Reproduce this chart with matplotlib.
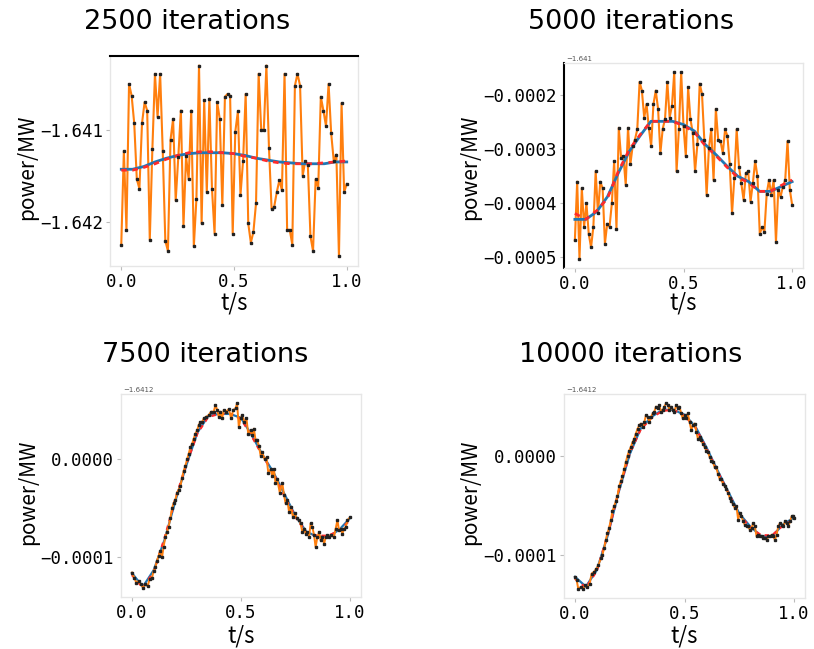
import numpy as np
import matplotlib
matplotlib.use("Agg")
import matplotlib.pyplot as plt

# ---- data -----------------------------------------------------------------
TITLES = ["2500 iterations", "5000 iterations", "7500 iterations", "10000 iterations"]
OFFSET_TEXT = ["", "\u22121.641", "\u22121.6412", "\u22121.6412"]

# smooth reference curves at t = 0, 0.05, ..., 1.0
KNOT_T = [0.00, 0.05, 0.10, 0.15, 0.20, 0.25, 0.30, 0.35, 0.40, 0.45, 0.50,
          0.55, 0.60, 0.65, 0.70, 0.75, 0.80, 0.85, 0.90, 0.95, 1.00]

# panel 1 (MW)
p1_blue = [-1.64143, -1.64143, -1.64140, -1.64135, -1.64131, -1.64128, -1.64126,
           -1.64125, -1.64125, -1.64125, -1.64126, -1.64128, -1.64131, -1.64133,
           -1.64135, -1.64136, -1.64137, -1.64137, -1.64137, -1.64135, -1.64135]
p1_red = [-1.64144, -1.64144, -1.64141, -1.64137, -1.64132, -1.64128, -1.64125,
          -1.64124, -1.64124, -1.64125, -1.64126, -1.64129, -1.64131, -1.64134,
          -1.64136, -1.64137, -1.64137, -1.64137, -1.64136, -1.64135, -1.64134]
p1_orange = [
    -1.64225, -1.64123, -1.64209, -1.64050, -1.64063, -1.64093, -1.64154, -1.64164,
    -1.64093, -1.64070, -1.64079, -1.64220, -1.64121, -1.64039, -1.64086, -1.64039,
    -1.64123, -1.64221, -1.64232, -1.64111, -1.64088, -1.64177, -1.64130, -1.64079,
    -1.64205, -1.64129, -1.64154, -1.64079, -1.64227, -1.64175, -1.64030, -1.64202,
    -1.64068, -1.64168, -1.64066, -1.64164, -1.64213, -1.64070, -1.64088, -1.64182,
    -1.64064, -1.64061, -1.64063, -1.64213, -1.64102, -1.64080, -1.64171, -1.64134,
    -1.64061, -1.64202, -1.64223, -1.64211, -1.64180, -1.64039, -1.64100, -1.64100,
    -1.64030, -1.64120, -1.64186, -1.64184, -1.64168, -1.64155, -1.64166, -1.64039,
    -1.64209, -1.64209, -1.64225, -1.64052, -1.64039, -1.64052, -1.64150, -1.64134,
    -1.64138, -1.64216, -1.64232, -1.64154, -1.64163, -1.64064, -1.64079, -1.64096,
    -1.64050, -1.64104, -1.64134, -1.64127, -1.64238, -1.64071, -1.64168, -1.64159,
]

# panels 2-4 are in units of 1e-4 MW (relative to the offset)
p2_blue = [-4.31, -4.31, -4.17, -3.89, -3.45, -3.05, -2.76, -2.49, -2.49, -2.49, -2.55,
           -2.67, -2.92, -3.11, -3.32, -3.51, -3.61, -3.79, -3.79, -3.70, -3.61]
p2_red = [-4.20, -4.31, -4.15, -3.92, -3.42, -3.02, -2.74, -2.49, -2.49, -2.49, -2.57,
          -2.69, -2.94, -3.13, -3.34, -3.53, -3.63, -3.79, -3.79, -3.68, -3.58]
p2_orange = [
    -4.70, -3.61, -5.04, -3.73, -4.45, -4.01, -4.58, -4.83, -4.45, -3.42, -4.20, -3.61,
    -3.73, -4.76, -4.39, -4.45, -4.01, -3.23, -4.48, -2.61, -3.17, -3.14, -3.67, -2.61,
    -3.29, -2.95, -2.83, -2.64, -1.76, -1.92, -2.42, -2.17, -2.61, -2.95, -2.17, -1.92,
    -2.26, -3.08, -2.63, -2.45, -1.76, -2.42, -2.20, -1.58, -3.42, -2.64, -1.58, -2.58,
    -3.14, -1.86, -2.45, -2.70, -3.42, -2.92, -1.79, -1.98, -2.83, -3.86, -2.98, -2.64,
    -3.58, -2.26, -2.83, -2.86, -3.08, -2.64, -2.76, -3.29, -4.20, -3.54, -2.64, -3.33,
    -3.64, -3.95, -3.45, -3.42, -3.98, -3.64, -3.23, -3.51, -4.58, -4.45, -4.54, -3.83,
    -3.58, -3.86, -3.58, -4.73, -3.76, -3.89, -3.70, -3.58, -2.86, -3.76, -4.04,
]

p3_blue = [-1.16, -1.30, -1.13, -0.82, -0.42, -0.06, 0.27, 0.44, 0.46, 0.46, 0.42,
           0.24, 0.04, -0.14, -0.36, -0.58, -0.74, -0.79, -0.79, -0.72, -0.60]
p3_red = [-1.18, -1.31, -1.15, -0.80, -0.40, -0.05, 0.26, 0.43, 0.46, 0.46, 0.41,
          0.23, 0.03, -0.15, -0.38, -0.59, -0.75, -0.78, -0.78, -0.73, -0.62]
p3_t = [
    0.000, 0.011, 0.020, 0.031, 0.041, 0.051, 0.061, 0.072, 0.081, 0.092,
    0.100, 0.107, 0.115, 0.123, 0.130, 0.138, 0.145, 0.153, 0.161, 0.168,
    0.176, 0.184, 0.191, 0.199, 0.207, 0.214, 0.222, 0.230, 0.237, 0.245,
    0.253, 0.260, 0.268, 0.276, 0.283, 0.291, 0.299, 0.306, 0.314, 0.322,
    0.329, 0.341, 0.352, 0.363, 0.375, 0.383, 0.391, 0.398, 0.406, 0.413,
    0.421, 0.433, 0.444, 0.455, 0.464, 0.475, 0.482, 0.490, 0.498, 0.505,
    0.516, 0.525, 0.533, 0.544, 0.551, 0.559, 0.567, 0.574, 0.582, 0.590,
    0.597, 0.608, 0.617, 0.625, 0.636, 0.643, 0.651, 0.658, 0.666, 0.678,
    0.689, 0.697, 0.704, 0.712, 0.720, 0.727, 0.738, 0.746, 0.755, 0.766,
    0.773, 0.781, 0.789, 0.796, 0.804, 0.812, 0.819, 0.827, 0.835, 0.842,
    0.850, 0.858, 0.865, 0.873, 0.881, 0.888, 0.896, 0.904, 0.911, 0.926,
    0.934, 0.942, 0.949, 0.957, 0.965, 0.972, 0.980, 0.988, 1.000,
]
p3_orange = [
    -1.155, -1.207, -1.259, -1.241, -1.276, -1.310, -1.276, -1.293, -1.224, -1.207,
    -1.138, -1.103, -1.034, -0.983, -0.931, -1.000, -0.897, -0.793, -0.741, -0.690,
    -0.603, -0.500, -0.448, -0.414, -0.345, -0.310, -0.276, -0.190, -0.121, -0.069,
    0.000, 0.052, 0.121, 0.155, 0.207, 0.259, 0.293, 0.345, 0.379, 0.379,
    0.414, 0.431, 0.448, 0.483, 0.483, 0.552, 0.500, 0.431, 0.483, 0.414,
    0.500, 0.483, 0.510, 0.414, 0.500, 0.517, 0.569, 0.328, 0.414, 0.448,
    0.379, 0.414, 0.259, 0.293, 0.241, 0.310, 0.190, 0.190, 0.138, 0.034,
    0.069, 0.000, 0.017, -0.138, -0.103, -0.172, -0.103, -0.241, -0.207, -0.345,
    -0.241, -0.362, -0.448, -0.414, -0.534, -0.483, -0.586, -0.552, -0.603, -0.621,
    -0.655, -0.741, -0.707, -0.759, -0.741, -0.793, -0.655, -0.690, -0.776, -0.897,
    -0.793, -0.741, -0.828, -0.793, -0.862, -0.793, -0.776, -0.793, -0.776, -0.793,
    -0.707, -0.621, -0.724, -0.707, -0.759, -0.707, -0.690, -0.621, -0.593,
]

p4_blue = [-1.22, -1.32, -1.15, -0.80, -0.36, 0.02, 0.28, 0.40, 0.47, 0.47, 0.42,
           0.30, 0.09, -0.14, -0.36, -0.58, -0.71, -0.81, -0.81, -0.69, -0.62]
p4_red = [-1.24, -1.33, -1.16, -0.79, -0.35, 0.03, 0.27, 0.39, 0.46, 0.47, 0.41,
          0.29, 0.08, -0.15, -0.37, -0.59, -0.72, -0.80, -0.80, -0.70, -0.64]
p4_t = [
    0.000, 0.008, 0.015, 0.026, 0.037, 0.046, 0.057, 0.067, 0.076, 0.087,
    0.098, 0.107, 0.118, 0.125, 0.133, 0.141, 0.148, 0.156, 0.164, 0.171,
    0.179, 0.187, 0.194, 0.202, 0.210, 0.217, 0.225, 0.232, 0.240, 0.248,
    0.255, 0.263, 0.271, 0.278, 0.286, 0.294, 0.301, 0.309, 0.317, 0.324,
    0.332, 0.339, 0.347, 0.355, 0.362, 0.370, 0.378, 0.385, 0.393, 0.401,
    0.408, 0.416, 0.424, 0.431, 0.439, 0.446, 0.454, 0.462, 0.469, 0.477,
    0.485, 0.492, 0.500, 0.508, 0.515, 0.523, 0.531, 0.538, 0.546, 0.554,
    0.561, 0.569, 0.576, 0.584, 0.592, 0.599, 0.607, 0.615, 0.622, 0.630,
    0.638, 0.645, 0.653, 0.661, 0.668, 0.676, 0.683, 0.691, 0.699, 0.706,
    0.714, 0.722, 0.729, 0.737, 0.745, 0.752, 0.760, 0.768, 0.775, 0.783,
    0.791, 0.798, 0.806, 0.813, 0.821, 0.829, 0.836, 0.844, 0.852, 0.859,
    0.867, 0.875, 0.882, 0.890, 0.898, 0.905, 0.913, 0.920, 0.928, 0.936,
    0.943, 0.951, 0.959, 0.966, 0.974, 0.982, 0.989, 0.997, 1.000,
]
p4_orange = [
    -1.222, -1.256, -1.341, -1.324, -1.341, -1.307, -1.324, -1.290, -1.188, -1.171,
    -1.137, -1.102, -1.034, -1.000, -0.932, -0.846, -0.778, -0.727, -0.642, -0.556,
    -0.505, -0.454, -0.403, -0.300, -0.249, -0.198, -0.130, -0.061, 0.007, 0.058,
    0.092, 0.143, 0.177, 0.229, 0.280, 0.314, 0.331, 0.297, 0.348, 0.416,
    0.399, 0.348, 0.399, 0.433, 0.451, 0.502, 0.485, 0.519, 0.451, 0.468,
    0.502, 0.536, 0.519, 0.468, 0.502, 0.468, 0.451, 0.519, 0.485, 0.502,
    0.433, 0.382, 0.416, 0.382, 0.433, 0.348, 0.263, 0.314, 0.331, 0.246,
    0.177, 0.195, 0.160, 0.126, 0.092, 0.058, 0.041, -0.010, -0.044, -0.061,
    -0.113, -0.113, -0.181, -0.232, -0.232, -0.283, -0.300, -0.334, -0.369, -0.420,
    -0.454, -0.488, -0.522, -0.505, -0.642, -0.573, -0.608, -0.659, -0.693, -0.710,
    -0.710, -0.744, -0.727, -0.676, -0.710, -0.812, -0.795, -0.812, -0.812, -0.829,
    -0.829, -0.846, -0.812, -0.812, -0.795, -0.812, -0.846, -0.795, -0.710, -0.676,
    -0.693, -0.710, -0.659, -0.676, -0.710, -0.659, -0.608, -0.608, -0.625,
]

Y_TICKS = [[-1.641, -1.642], [-2, -3, -4, -5], [0, -1], [0, -1]]
Y_TICKLABELS = [["\u22121.641", "\u22121.642"],
                ["\u22120.0002", "\u22120.0003", "\u22120.0004", "\u22120.0005"],
                ["0.0000", "\u22120.0001"],
                ["0.0000", "\u22120.0001"]]
X_TICKS = [0.0, 0.5, 1.0]
X_TICKLABELS = ["0.0", "0.5", "1.0"]

# (sample times or None for evenly spaced, blue, red, orange)
PANELS = [
    (None, p1_blue, p1_red, p1_orange),
    (None, p2_blue, p2_red, p2_orange),
    (p3_t, p3_blue, p3_red, p3_orange),
    (p4_t, p4_blue, p4_red, p4_orange),
]

# ---- layout (pixels of the 814x649 figure) ---------------------------------
W, H = 814, 649
AX_BOXES = [(110, 56, 358, 266), (564, 63, 803, 268),
            (121, 394, 361, 597), (564, 394, 805, 598)]
TITLE_POS = [(187, 22), (631, 22), (205, 355), (631, 355)]
XLABEL_POS = [(234, 303), (683, 303), (241, 636), (684, 636)]
YLABEL_POS = [(27, 167), (470, 167), (28, 492), (470, 492)]

TICK_FONT = "DejaVu Sans Mono"
LABEL_FONT = ["Noto Sans CJK SC", "DejaVu Sans"]
GRAY = "#e6e6e6"


def draw_panel(fig, i):
    x0, y0, x1, y1 = AX_BOXES[i]
    ax = fig.add_axes([x0 / W, 1 - y1 / H, (x1 - x0) / W, (y1 - y0) / H])
    t, blue, red, orange = PANELS[i]
    if t is None:
        t = np.linspace(0, 1, len(orange))
    top_row = i < 2

    # noisy trace over the smooth curves in the lower row, under them in the top row
    oz = 2 if top_row else 4.5
    ax.plot(t, orange, color="#ff7f0e", linewidth=1.5 if top_row else 1.4, zorder=oz)
    ax.plot(KNOT_T, blue, color="#1f77b4", linewidth=2.0 if top_row else 1.6, zorder=3)
    ax.plot(KNOT_T, red, color="#ff2a2a", linewidth=2.0 if top_row else 1.6,
            linestyle=(0, (2, 2)), zorder=4)
    ax.plot(t, orange, linestyle="none", marker="s", markersize=1.6,
            color="#222222", zorder=5)

    ax.set_xlim(-0.05, 1.05)
    ax.set_xticks(X_TICKS)
    ax.set_xticklabels(X_TICKLABELS, family=TICK_FONT, fontsize=12.5)
    ax.set_yticks(Y_TICKS[i])
    ax.set_yticklabels(Y_TICKLABELS[i], family=TICK_FONT, fontsize=12.5)
    ax.tick_params(length=3, width=0.8, color="#bbbbbb", pad=2)

    for s in ax.spines.values():
        s.set_color(GRAY)
        s.set_linewidth(1.0)
    if i == 0:
        ax.spines["top"].set_color("black")
        ax.spines["top"].set_linewidth(1.5)
    if i == 1:
        ax.spines["left"].set_color("black")
        ax.spines["left"].set_linewidth(1.5)

    if OFFSET_TEXT[i]:
        ax.text(0.01, 1.005, OFFSET_TEXT[i], transform=ax.transAxes,
                fontsize=5, color="#555555", va="bottom", ha="left")

    tx, ty = TITLE_POS[i]
    fig.text(tx / W, 1 - ty / H, TITLES[i], fontsize=19.5, ha="center", va="center",
             family="DejaVu Sans")
    lx, ly = XLABEL_POS[i]
    fig.text(lx / W, 1 - ly / H, "t/s", fontsize=16, ha="center", va="center",
             family=LABEL_FONT)
    yx, yy = YLABEL_POS[i]
    fig.text(yx / W, 1 - yy / H, "power/MW", fontsize=15, ha="center", va="center",
             rotation=90, family=LABEL_FONT)
    return ax


fig = plt.figure(figsize=(W / 100, H / 100), dpi=100)
fig.patch.set_facecolor("white")
for k in range(4):
    draw_panel(fig, k)

fig.savefig("out.png", dpi=100, facecolor="white")
